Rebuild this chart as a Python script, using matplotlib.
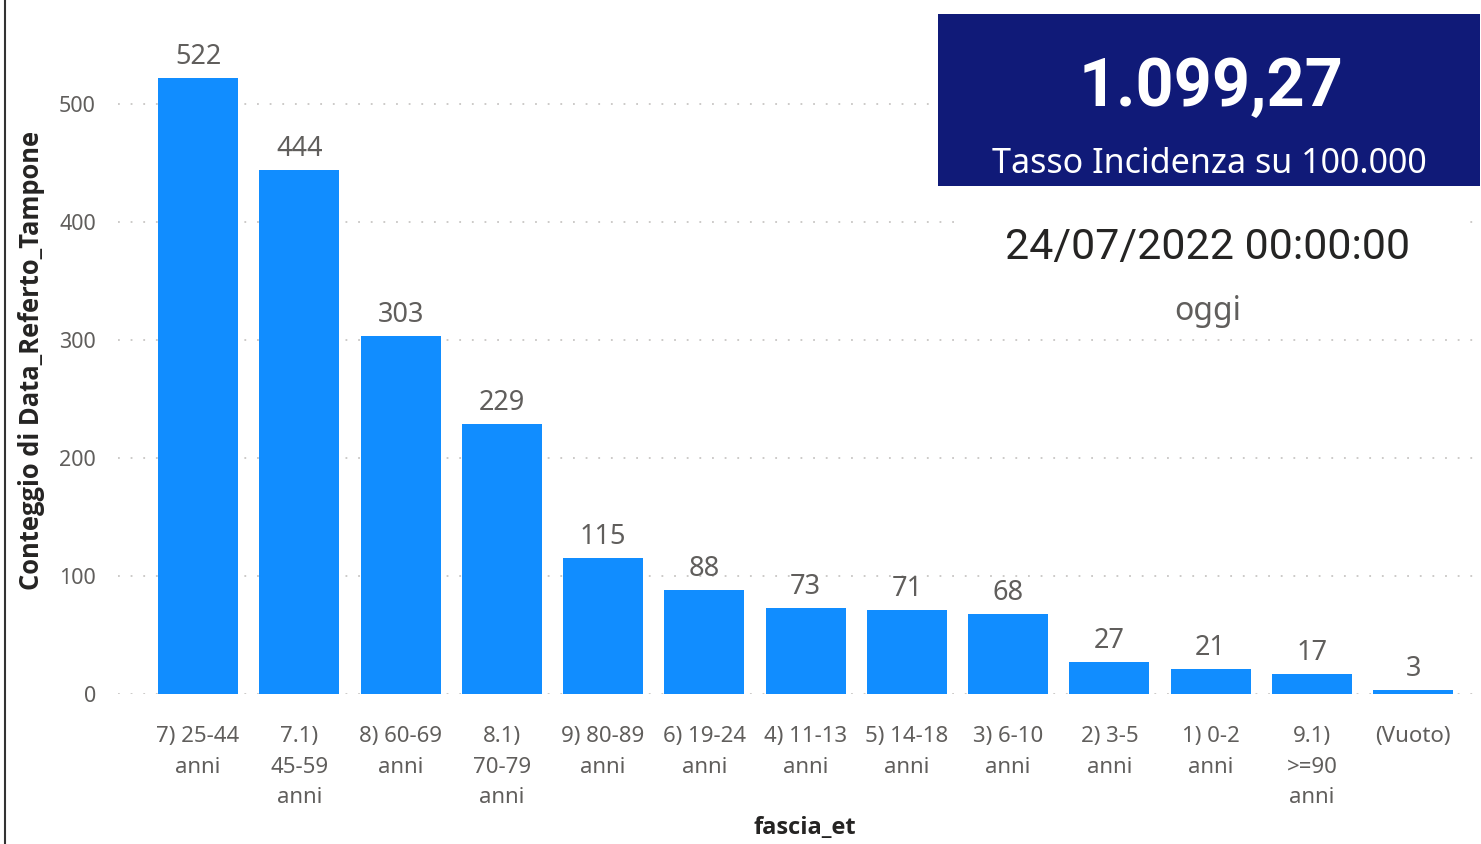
import matplotlib.pyplot as plt
from matplotlib.patches import Rectangle

categories = ["7) 25-44\nanni", "7.1)\n45-59\nanni", "8) 60-69\nanni", "8.1)\n70-79\nanni",
              "9) 80-89\nanni", "6) 19-24\nanni", "4) 11-13\nanni", "5) 14-18\nanni",
              "3) 6-10\nanni", "2) 3-5\nanni", "1) 0-2\nanni", "9.1)\n>=90\nanni", "(Vuoto)"]
counts = [522, 444, 303, 229, 115, 88, 73, 71, 68, 27, 21, 17, 3]
yticks = [0, 100, 200, 300, 400, 500]

kpi_value = "1.099,27"
kpi_label = "Tasso Incidenza su 100.000"
date_text = "24/07/2022 00:00:00"
date_label = "oggi"

BLUE = "#118DFF"
GREY = "#605E5C"
DARK = "#252423"
NAVY = "#101A78"

plt.rcParams['font.family'] = ['Noto Sans', 'DejaVu Sans']

W, H = 1481, 844
fig = plt.figure(figsize=(W / 100, H / 100), dpi=100)
ax = fig.add_axes([118 / W, 1 - 694 / H, 1 - 118 / W, (694 - 33.2) / H])

x = range(len(categories))
ax.bar(x, counts, width=0.79, color=BLUE, zorder=2)
for xi, v in zip(x, counts):
    ax.text(xi, v + 6, str(v), ha="center", va="bottom", fontsize=19.5, color=GREY)

ax.set_xlim(-0.79, 12.67)
ax.set_ylim(0, 560)
ax.set_yticks(yticks)
ax.set_xticks(list(x))
ax.set_xticklabels(categories, linespacing=1.6)
ax.tick_params(axis="x", length=0, pad=23, labelsize=16, labelcolor=GREY)
ax.tick_params(axis="y", length=0, pad=16, labelsize=15.5, labelcolor=GREY)
ax.grid(axis="y", color="#C8C6C4", linestyle=(0, (1, 6)), linewidth=1.3, zorder=0)
for s in ax.spines.values():
    s.set_visible(False)

fig.text(32 / W, 1 - 360 / H, "Conteggio di Data_Referto_Tampone", rotation=90,
         ha="center", va="center", fontsize=18.4, fontweight="bold", family="Open Sans", color=DARK)
fig.text(805 / W, 1 - 828 / H, "fascia_et", ha="center", va="center",
         fontsize=17, fontweight="bold", family="Open Sans", color=DARK)

# left border of the report page
fig.add_artist(plt.Line2D([5 / W, 5 / W], [0, 1], color="#333333", linewidth=1.5))

# card visuals
fig.add_artist(Rectangle((960 / W, 1 - 290 / H), (1462 - 960) / W, 98 / H,
                         transform=fig.transFigure, facecolor="white", edgecolor="none", zorder=3))
fig.add_artist(Rectangle((938 / W, 1 - 186 / H), (1480 - 938) / W, 172 / H,
                         transform=fig.transFigure, facecolor=NAVY, edgecolor="none", zorder=3))
fig.text(1211 / W, 1 - 88 / H, kpi_value, ha="center", va="center", fontsize=48,
         fontweight="bold", family="Roboto", color="white", zorder=4)
fig.text(1209 / W, 1 - 164 / H, kpi_label, ha="center", va="center", fontsize=24.5,
         color="white", zorder=4)
fig.text(1208 / W, 1 - 248 / H, date_text, ha="center", va="center", fontsize=31,
         family="Roboto", color=DARK, zorder=4)
fig.text(1208 / W, 1 - 311 / H, date_label, ha="center", va="center", fontsize=23,
         color=GREY, zorder=4)

fig.savefig("out.png", dpi=100)
